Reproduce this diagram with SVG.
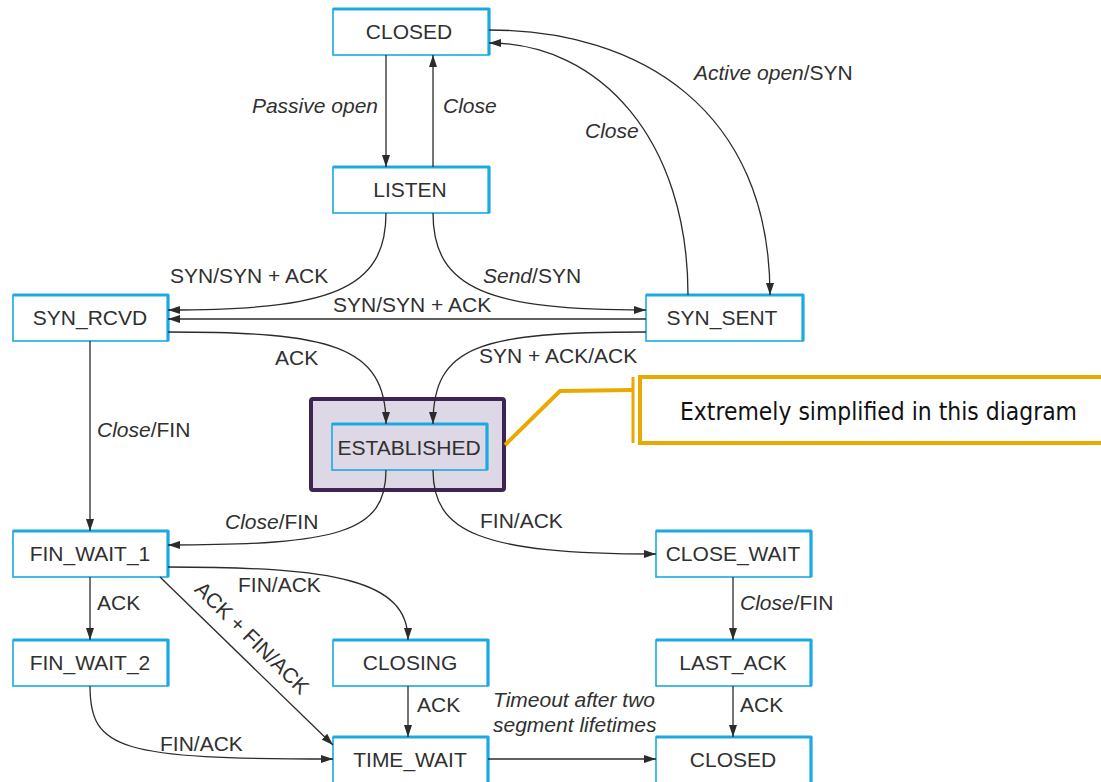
<svg xmlns="http://www.w3.org/2000/svg" width="1101" height="782" viewBox="0 0 1101 782">
  <defs>
    <marker id="arr" viewBox="0 0 12 8" refX="12" refY="4" markerWidth="12" markerHeight="8" markerUnits="userSpaceOnUse" orient="auto">
      <path d="M0,0 L12,4 L0,8 Z" fill="#2b2b2b"/>
    </marker>
    <style>
      .box { fill: #ffffff; stroke: #1ba9e1; stroke-width: 1.6; }
      .rim { fill: none; stroke: #1ba9e1; stroke-width: 3.2; stroke-linejoin: round; }
      .name { font-family: "Liberation Sans", Arial, sans-serif; font-size: 21px; fill: #303030; text-anchor: middle; }
      .lbl { font-family: "Liberation Sans", Arial, sans-serif; font-size: 21px; fill: #303030; }
      .it { font-style: italic; }
      .edge { fill: none; stroke: #2b2b2b; stroke-width: 1.3; marker-end: url(#arr); }
    </style>
  </defs>
  <rect width="1101" height="782" fill="#ffffff"/>

  <!-- states -->
  <g id="closed-top">
    <rect class="box" x="333" y="9" width="156" height="46"/>
    <path class="rim" d="M333,9 H489 V55"/>
    <text class="name" x="409" y="39">CLOSED</text>
  </g>
  <g id="listen">
    <rect class="box" x="333" y="167" width="156" height="46"/>
    <path class="rim" d="M333,167 H489 V213"/>
    <text class="name" x="410" y="197">LISTEN</text>
  </g>
  <g id="syn-rcvd">
    <rect class="box" x="13" y="295" width="155" height="46"/>
    <path class="rim" d="M13,295 H168 V341"/>
    <text class="name" x="90" y="325">SYN_RCVD</text>
  </g>
  <g id="syn-sent">
    <rect class="box" x="646" y="295" width="157" height="46"/>
    <path class="rim" d="M646,295 H803 V341"/>
    <text class="name" x="722" y="325">SYN_SENT</text>
  </g>
  <g id="established">
    <rect x="311" y="399" width="193" height="91" rx="2" fill="#ded7e5" stroke="#3e2453" stroke-width="4"/>
    <rect x="332" y="424" width="155" height="46" fill="#ded7e5" stroke="#1ba9e1" stroke-width="1.6"/>
    <path class="rim" d="M332,424 H487 V470"/>
    <text class="name" x="409" y="455" fill="#2e2a36">ESTABLISHED</text>
  </g>
  <g id="fin-wait-1">
    <rect class="box" x="13" y="531" width="155" height="46"/>
    <path class="rim" d="M13,531 H168 V577"/>
    <text class="name" x="90" y="561">FIN_WAIT_1</text>
  </g>
  <g id="close-wait">
    <rect class="box" x="656" y="531" width="155" height="46"/>
    <path class="rim" d="M656,531 H811 V577"/>
    <text class="name" x="733" y="561">CLOSE_WAIT</text>
  </g>
  <g id="fin-wait-2">
    <rect class="box" x="13" y="640" width="155" height="46"/>
    <path class="rim" d="M13,640 H168 V686"/>
    <text class="name" x="90" y="670">FIN_WAIT_2</text>
  </g>
  <g id="closing">
    <rect class="box" x="333" y="640" width="155" height="46"/>
    <path class="rim" d="M333,640 H488 V686"/>
    <text class="name" x="410" y="670">CLOSING</text>
  </g>
  <g id="last-ack">
    <rect class="box" x="656" y="640" width="155" height="46"/>
    <path class="rim" d="M656,640 H811 V686"/>
    <text class="name" x="733" y="670">LAST_ACK</text>
  </g>
  <g id="time-wait">
    <rect class="box" x="333" y="737" width="155" height="46"/>
    <path class="rim" d="M333,737 H488 V783"/>
    <text class="name" x="410" y="767">TIME_WAIT</text>
  </g>
  <g id="closed-bottom">
    <rect class="box" x="656" y="737" width="155" height="46"/>
    <path class="rim" d="M656,737 H811 V783"/>
    <text class="name" x="733" y="767">CLOSED</text>
  </g>

  <!-- connectors -->
  <g id="connectors">
    <path class="edge" d="M386,55 L386,167"/>
    <path class="edge" d="M433,167 L433,55"/>
    <path class="edge" d="M489,30 C640,30 770,110 770,295"/>
    <path class="edge" d="M688,295 C688,140 600,43 489,43"/>
    <path class="edge" d="M386,213 C386,290 330,310 168,310"/>
    <path class="edge" d="M433,213 C433,290 490,310 646,310"/>
    <path class="edge" d="M646,319 L168,319"/>
    <path class="edge" d="M168,332 C330,332 386,345 386,424"/>
    <path class="edge" d="M646,332 C480,332 433,345 433,424"/>
    <path class="edge" d="M90,341 L90,531"/>
    <path class="edge" d="M386,470 C386,532 340,545 168,545"/>
    <path class="edge" d="M433,470 C433,532 480,554 656,554"/>
    <path class="edge" d="M733,577 L733,640"/>
    <path class="edge" d="M90,577 L90,640"/>
    <path class="edge" d="M168,567 C335,567 408,580 408,640"/>
    <path class="edge" d="M160,577 L333,745"/>
    <path class="edge" d="M90,686 C90,750 120,759 333,759"/>
    <path class="edge" d="M408,686 L408,737"/>
    <path class="edge" d="M488,759 L656,759"/>
    <path class="edge" d="M733,686 L733,737"/>
  </g>

  <!-- connector labels -->
  <g id="labels">
    <text class="lbl it" x="378" y="113" text-anchor="end">Passive open</text>
    <text class="lbl it" x="443" y="113">Close</text>
    <text class="lbl" x="694" y="80"><tspan class="it">Active open</tspan>/SYN</text>
    <text class="lbl it" x="585" y="138">Close</text>
    <text class="lbl" x="170" y="283">SYN/SYN + ACK</text>
    <text class="lbl" x="483" y="283"><tspan class="it">Send</tspan>/SYN</text>
    <text class="lbl" x="333" y="312">SYN/SYN + ACK</text>
    <text class="lbl" x="275" y="365">ACK</text>
    <text class="lbl" x="479" y="363">SYN + ACK/ACK</text>
    <text class="lbl" x="97" y="437"><tspan class="it">Close</tspan>/FIN</text>
    <text class="lbl" x="225" y="529"><tspan class="it">Close</tspan>/FIN</text>
    <text class="lbl" x="480" y="528">FIN/ACK</text>
    <text class="lbl" x="740" y="610"><tspan class="it">Close</tspan>/FIN</text>
    <text class="lbl" x="97" y="610">ACK</text>
    <text class="lbl" x="238" y="592">FIN/ACK</text>
    <text class="lbl" transform="translate(247,643) rotate(44.5)" text-anchor="middle">ACK + FIN/ACK</text>
    <text class="lbl" x="160" y="751">FIN/ACK</text>
    <text class="lbl" x="417" y="712">ACK</text>
    <text class="lbl it" x="493" y="707">Timeout after two</text>
    <text class="lbl it" x="493" y="732">segment lifetimes</text>
    <text class="lbl" x="740" y="712">ACK</text>
  </g>

  <!-- callout -->
  <g id="callout">
    <polyline points="505,445 560,391 632,390" fill="none" stroke="#e8a900" stroke-width="4"/>
    <line x1="633" y1="377" x2="633" y2="443" stroke="#e8a900" stroke-width="3"/>
    <rect x="640" y="377" width="470" height="66" fill="#ffffff" stroke="#e8a900" stroke-width="4"/>
    <text x="680" y="420" font-family="'Liberation Sans Narrow', 'DejaVu Sans Condensed', sans-serif" font-size="25" fill="#111111" textLength="397" lengthAdjust="spacingAndGlyphs">Extremely simplified in this diagram</text>
  </g>
</svg>
